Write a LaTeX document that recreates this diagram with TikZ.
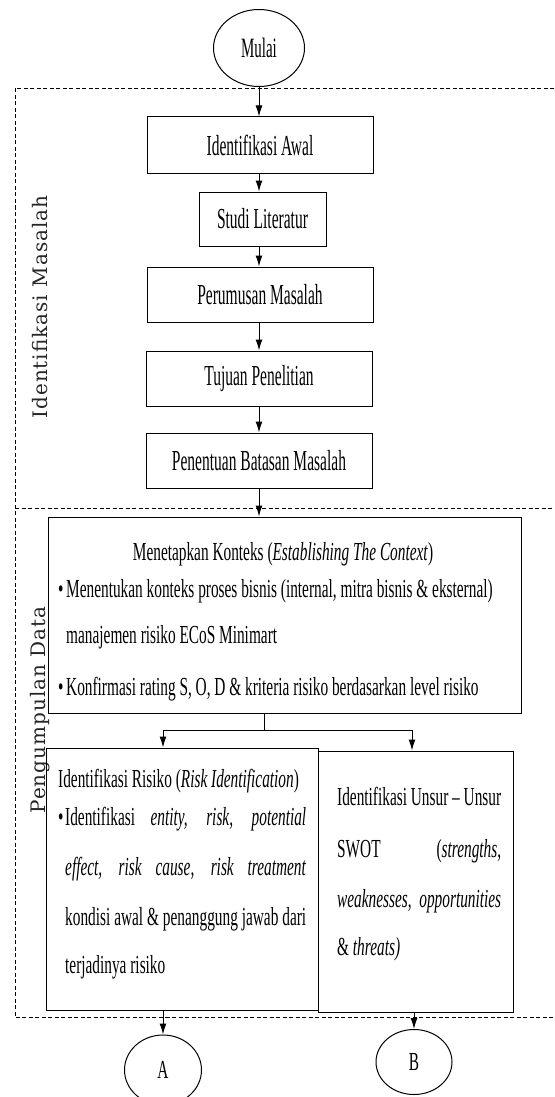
\documentclass[tikz,border=0pt]{standalone}
\usepackage{fontspec}
\setmainfont{Liberation Serif}[FakeStretch=0.59]
\newfontfamily\boxfont{Liberation Serif}[FakeStretch=0.535]
\newfontfamily\sidefont{DejaVu Serif}[LetterSpace=5]
\usetikzlibrary{shapes.geometric, arrows.meta}

\begin{document}
\begin{tikzpicture}[x=1pt, y=-1pt,
    every node/.style={font=\fontsize{26}{30}\selectfont},
    box/.style={draw, line width=1pt, inner sep=0pt},
    stepbox/.style={box, font=\boxfont\fontsize{29}{32}\selectfont},
    oval/.style={draw, ellipse, line width=1pt, inner sep=0pt},
    txt/.style={anchor=base west, inner sep=0pt},
    arr/.style={-{Latex[length=11pt, width=7pt]}, line width=1pt},
    stage/.style={dash pattern=on 4pt off 2.5pt, line width=0.9pt},
    side/.style={rotate=90, inner sep=0pt, font=\sidefont\fontsize{20}{22}\selectfont, text=black!85}]
        \clip (0,0) rectangle (554,1097);

        % Draw stages
        \draw[stage] (554,88) -- (15,88) -- (15,1017) -- (554,1017);
        \draw[stage] (15,508) -- (554,508);
        \node[side] (lmasalah) at (40,307) {Identifikasi Masalah};
        \node[side] (ldata) at (40,710) {Pengumpulan Data};

        % Draw vertices
        \node[oval, minimum width=91, minimum height=77, font=\boxfont\fontsize{28}{30}\selectfont] (mulai) at (259,48) {Mulai};
        \node[stepbox, minimum width=226, minimum height=56] (ia) at (260,145) {Identifikasi Awal};
        \node[stepbox, minimum width=127, minimum height=54] (sl) at (262.5,219) {Studi Literatur};
        \node[stepbox, minimum width=226, minimum height=55] (pm) at (260,294.5) {Perumusan Masalah};
        \node[stepbox, minimum width=226, minimum height=55] (tp) at (259,378.5) {Tujuan Penelitian};
        \node[stepbox, minimum width=226, minimum height=55] (pb) at (259,460.5) {Penentuan Batasan Masalah};
        \node[box, minimum width=473, minimum height=196] (mk) at (284.5,615) {};
        \node[box, minimum width=272, minimum height=262] (ir) at (182,879) {};
        \node[box, minimum width=195, minimum height=261] (sw) at (415.5,881.5) {};
        \node[oval, minimum width=77, minimum height=70] (ca) at (163,1070) {A};
        \node[oval, minimum width=76, minimum height=65] (cb) at (414,1062) {B};

        % Draw texts
        \node[anchor=base, inner sep=0pt] (mkt) at (283,560) {Menetapkan Konteks (\textit{Establishing The Context})};
        \node[txt] (mk1) at (58,597) {\makebox[8pt][l]{•}Menentukan konteks proses bisnis (internal, mitra bisnis \& eksternal)};
        \node[txt] (mk2) at (66,643) {manajemen risiko ECoS Minimart};
        \node[txt] (mk3) at (58,695) {\makebox[8pt][l]{•}Konfirmasi rating S, O, D \& kriteria risiko berdasarkan level risiko};

        \node[txt] (irt) at (58,787) {Identifikasi Risiko (\textit{Risk Identification})};
        \node[txt] (ir1) at (58,825) {\makebox[7pt][l]{•}\makebox[241pt][s]{Identifikasi \textit{entity, risk, potential}}};
        \node[txt] (ir2) at (65,875) {\makebox[241pt][s]{\textit{effect, risk cause, risk treatment}}};
        \node[txt] (ir3) at (65,925) {\makebox[241pt][s]{kondisi awal \& penanggung jawab dari}};
        \node[txt] (ir4) at (65,973) {terjadinya risiko};

        \node[txt] (sw1) at (337,805) {\makebox[164pt][s]{Identifikasi Unsur – Unsur}};
        \node[txt] (sw2) at (337,857) {\makebox[164pt][s]{SWOT (\textit{strengths},}};
        \node[txt] (sw3) at (337,907) {\makebox[164pt][s]{\textit{weaknesses}, \textit{opportunities}}};
        \node[txt] (sw4) at (337,955) {\& \textit{threats)}};

        % Draw edges
        \coordinate (split) at (264,730);
        \coordinate (jl) at (163,730);
        \coordinate (jr) at (412,730);

        \draw[arr] (mulai.south) -- (mulai.south |- ia.north);
        \draw[arr] (ia.south -| mulai) -- (mulai |- sl.north);
        \draw[arr] (sl.south -| mulai) -- (mulai |- pm.north);
        \draw[arr] (pm.south -| mulai) -- (mulai |- tp.north);
        \draw[arr] (tp.south -| mulai) -- (mulai |- pb.north);
        \draw[arr] (pb.south -| mulai) -- (mulai |- mk.north);

        \draw[line width=1pt] (mk.south -| split) -- (split);
        \draw[line width=1pt] (jl) -- (jr);
        \draw[arr] (jl) -- (jl |- ir.north);
        \draw[arr] (jr) -- (jr |- sw.north);

        \draw[arr] (ir.south -| ca) -- (ca.north);
        \draw[arr] (sw.south -| cb) -- (cb.north);
    \end{tikzpicture}
\end{document}
